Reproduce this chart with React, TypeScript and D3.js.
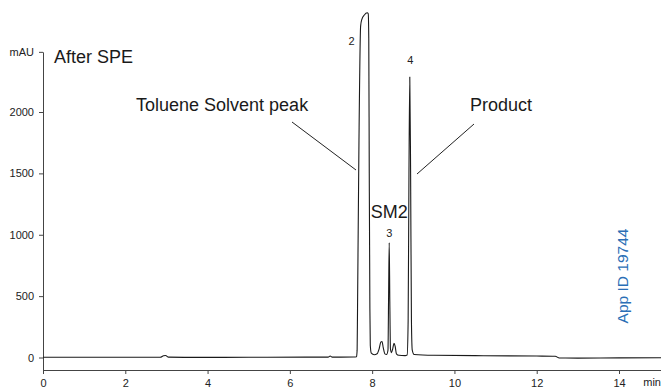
import React, { useEffect, useRef } from "react";
import * as d3 from "d3";

// retention time (min)
const times = [
  0, 1.8, 2.85, 2.93, 2.98, 3.05, 3.7, 5, 6.4, 6.93, 6.98, 7.03, 7.55, 7.62,
  7.635, 7.645, 7.68, 7.72, 7.75, 7.81, 7.88, 7.905, 7.918, 7.93, 7.945, 7.955,
  7.98, 8.05, 8.12, 8.17, 8.21, 8.24, 8.27, 8.31, 8.35, 8.385, 8.4, 8.415, 8.43,
  8.445, 8.47, 8.5, 8.53, 8.56, 8.59, 8.65, 8.8, 8.85, 8.875, 8.895, 8.915,
  8.935, 8.955, 8.975, 9.02, 9.5, 10.5, 12.0, 12.45, 12.55, 13, 14, 15.2,
];
// absorbance (mAU)
const signal = [
  2, 2, 2, 14, 16, 3, 1, 2, 3, 3, 12, 3, 4, 6,
  60, 400, 1770, 2700, 2755, 2790, 2808, 2800, 2600, 1500, 400, 100,
  35, 22, 30, 70, 125, 130, 80, 30, 25, 60, 500, 935, 450,
  70, 40, 70, 115, 90, 30, 18, 15, 20, 300, 1500, 2285,
  1500, 300, 60, 25, 18, 15, 12, 10, -4, -5, -3, -2,
];

const xTicks = [0, 2, 4, 6, 8, 10, 12, 14];
const yTicks = [0, 500, 1000, 1500, 2000];
const yUnitTick = 2490; // top of axis, labelled "mAU"

// peak numbers [time, mAU, label]
const peakLabels: [number, number, string][] = [
  [7.5, 2578, "2"],
  [8.415, 1015, "3"],
  [8.93, 2420, "4"],
];

const FONT = "'Liberation Sans', Arial, sans-serif";

const App = () => {
  const svgRef = useRef<SVGSVGElement>(null);

  useEffect(() => {
    const svg = d3.select(svgRef.current);
    svg.selectAll("*").remove();

    const x = d3.scaleLinear().domain([0, 14]).range([43, 619]);
    const y = d3.scaleLinear().domain([0, 2000]).range([357.5, 112]);

    const xAxisScale = d3.scaleLinear().domain([0, 15.03]).range([43, x(15.03)]);
    const yAxisScale = d3
      .scaleLinear()
      .domain([y.invert(370), yUnitTick])
      .range([370, y(yUnitTick)]);

    const xAxis = svg
      .append("g")
      .attr("transform", "translate(0,370)")
      .call(
        d3
          .axisBottom(xAxisScale)
          .tickValues(xTicks)
          .tickSize(4)
          .tickSizeOuter(0)
          .tickPadding(5)
          .tickFormat((d) => String(d))
      );

    const yAxis = svg
      .append("g")
      .attr("transform", "translate(43,0)")
      .call(
        d3
          .axisLeft(yAxisScale)
          .tickValues([...yTicks, yUnitTick])
          .tickSize(4)
          .tickSizeOuter(0)
          .tickPadding(5)
          .tickFormat((d) => (d === yUnitTick ? "mAU" : String(d)))
      );

    [xAxis, yAxis].forEach((g) => {
      g.attr("font-family", FONT).attr("font-size", 11);
      g.selectAll("path, line").attr("stroke", "#444").attr("stroke-width", 1);
      g.selectAll("text").attr("fill", "#222");
    });

    svg
      .append("text")
      .attr("x", 661)
      .attr("y", 386)
      .attr("text-anchor", "end")
      .attr("font-family", FONT)
      .attr("font-size", 11)
      .attr("fill", "#222")
      .text("min");

    const data = times.map((t, i) => [t, signal[i]] as [number, number]);
    const line = d3
      .line<[number, number]>()
      .x((d) => x(d[0]))
      .y((d) => y(d[1]))
      .curve(d3.curveMonotoneX);

    svg
      .append("path")
      .datum(data)
      .attr("fill", "none")
      .attr("stroke", "#1a1a1a")
      .attr("stroke-width", 1.1)
      .attr("stroke-linejoin", "round")
      .attr("d", line);

    svg
      .selectAll(".peak")
      .data(peakLabels)
      .enter()
      .append("text")
      .attr("class", "peak")
      .attr("x", (d) => x(d[0]))
      .attr("y", (d) => y(d[1]) + 4)
      .attr("text-anchor", "middle")
      .attr("font-family", FONT)
      .attr("font-size", 11)
      .attr("fill", "#222")
      .text((d) => d[2]);

    const label = (tx: number, ty: number, s: string, anchor = "start") =>
      svg
        .append("text")
        .attr("x", tx)
        .attr("y", ty)
        .attr("text-anchor", anchor)
        .attr("font-family", FONT)
        .attr("font-size", 18)
        .attr("fill", "#1a1a1a")
        .text(s);

    label(54, 63, "After SPE");
    label(136, 111, "Toluene Solvent peak");
    label(470, 111, "Product");
    label(x(8.415), 218, "SM2", "middle");

    // leader lines
    svg
      .append("line")
      .attr("x1", 292)
      .attr("y1", 122)
      .attr("x2", 356)
      .attr("y2", 170)
      .attr("stroke", "#222")
      .attr("stroke-width", 1);
    svg
      .append("line")
      .attr("x1", 474)
      .attr("y1", 124)
      .attr("x2", 417)
      .attr("y2", 174)
      .attr("stroke", "#222")
      .attr("stroke-width", 1);

    svg
      .append("text")
      .attr("transform", "translate(628,276) rotate(-90)")
      .attr("text-anchor", "middle")
      .attr("font-family", FONT)
      .attr("font-size", 15.5)
      .attr("fill", "#2b6fb6")
      .text("App ID 19744");
  }, []);

  return (
    <svg
      ref={svgRef}
      width={661}
      height={388}
      style={{ position: "fixed", left: 0, top: 0, background: "#fff" }}
    />
  );
};

export default App;
